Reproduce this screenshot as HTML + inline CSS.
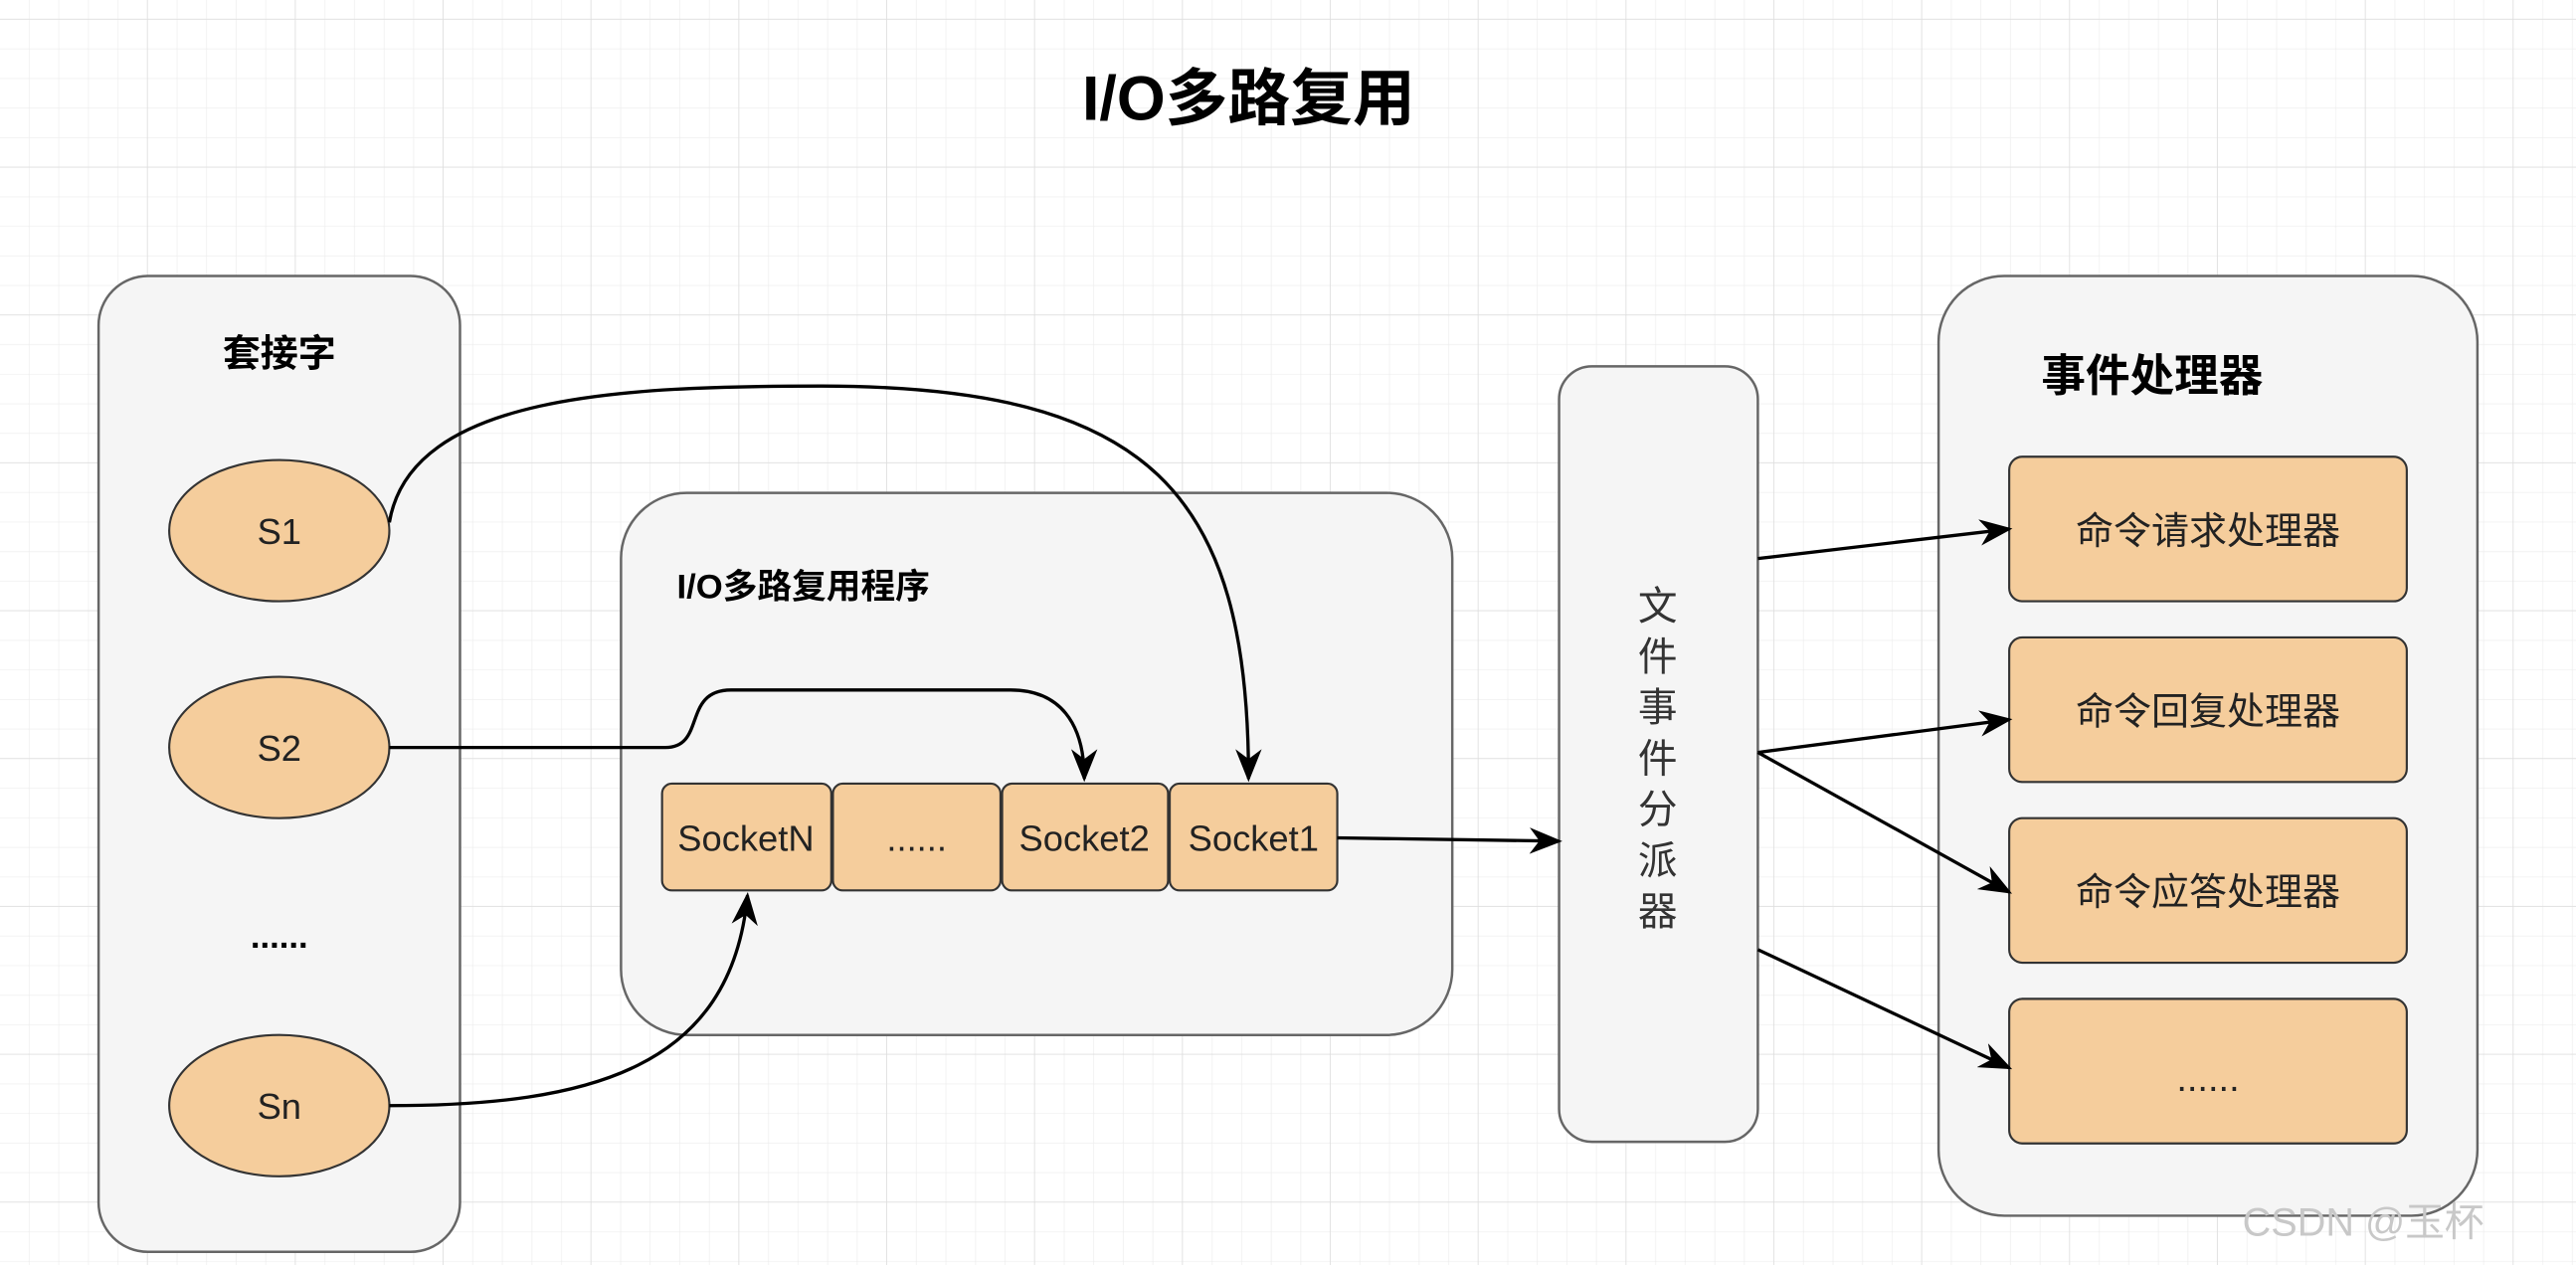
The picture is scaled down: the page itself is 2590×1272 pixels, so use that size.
<!DOCTYPE html>
<html><head><meta charset="utf-8"><style>
html,body{margin:0;padding:0;background:#fff;}
svg{display:block;}
text{font-family:"Liberation Sans","Noto Sans CJK SC",sans-serif;}
</style></head><body>
<svg width="2590" height="1272" viewBox="0 0 1568 770" preserveAspectRatio="none" xmlns="http://www.w3.org/2000/svg">
<defs>
<pattern id="g" width="18" height="18" patternUnits="userSpaceOnUse">
<path d="M18 0V18M0 18H18" fill="none" stroke="#ececec" stroke-width="0.8"/>
</pattern>
<pattern id="G" width="90" height="90" patternUnits="userSpaceOnUse" x="0" y="12">
<rect width="90" height="90" fill="url(#g)"/>
<path d="M90 0V90M0 90H90" fill="none" stroke="#dedede" stroke-width="1"/>
</pattern>
<marker id="a" markerWidth="20" markerHeight="16" refX="18" refY="8" orient="auto" markerUnits="userSpaceOnUse" viewBox="0 0 20 16">
<path d="M0,0 L20,8 L0,16 L6,8 Z" fill="#000"/>
</marker>
</defs>
<rect width="1568" height="770" fill="url(#G)"/>
<text x="760" y="73" font-size="38" font-weight="bold" text-anchor="middle">I/O多路复用</text>

<rect x="60" y="168" width="220" height="594" rx="30" fill="#f5f5f5" stroke="#666" stroke-width="1.5"/>
<text x="170" y="223" font-size="23" font-weight="bold" text-anchor="middle">套接字</text>
<g fill="#f5cd9c" stroke="#333" stroke-width="1.3">
<ellipse cx="170" cy="323" rx="67" ry="43"/>
<ellipse cx="170" cy="455" rx="67" ry="43"/>
<ellipse cx="170" cy="673" rx="67" ry="43"/>
</g>
<g font-size="22" text-anchor="middle" fill="#222">
<text x="170" y="331">S1</text><text x="170" y="463">S2</text><text x="170" y="681">Sn</text>
</g>
<text x="170" y="577" font-size="21" font-weight="bold" text-anchor="middle">......</text>

<rect x="378" y="300" width="506" height="330" rx="40" fill="#f5f5f5" stroke="#666" stroke-width="1.5"/>
<text x="412" y="364" font-size="21" font-weight="bold">I/O多路复用程序</text>
<g fill="#f5cd9c" stroke="#333" stroke-width="1.3">
<rect x="403" y="477" width="103" height="65" rx="6"/>
<rect x="507" y="477" width="102" height="65" rx="6"/>
<rect x="610" y="477" width="101" height="65" rx="6"/>
<rect x="712" y="477" width="102" height="65" rx="6"/>
</g>
<g font-size="22" text-anchor="middle" fill="#222">
<text x="454" y="518">SocketN</text><text x="558" y="518">......</text>
<text x="660" y="518">Socket2</text><text x="763" y="518">Socket1</text>
</g>

<rect x="949" y="223" width="121" height="472" rx="20" fill="#f5f5f5" stroke="#666" stroke-width="1.5"/>
<g font-size="24" text-anchor="middle" fill="#333">
<text x="1009" y="377">文</text><text x="1009" y="408">件</text><text x="1009" y="439">事</text>
<text x="1009" y="470">件</text><text x="1009" y="501">分</text><text x="1009" y="532">派</text><text x="1009" y="563">器</text>
</g>

<rect x="1180" y="168" width="328" height="572" rx="40" fill="#f5f5f5" stroke="#666" stroke-width="1.5"/>
<text x="1310" y="238" font-size="27" font-weight="bold" text-anchor="middle">事件处理器</text>
<g fill="#f5cd9c" stroke="#333" stroke-width="1.3">
<rect x="1223" y="278" width="242" height="88" rx="8"/>
<rect x="1223" y="388" width="242" height="88" rx="8"/>
<rect x="1223" y="498" width="242" height="88" rx="8"/>
<rect x="1223" y="608" width="242" height="88" rx="8"/>
</g>
<g font-size="23" text-anchor="middle" fill="#222">
<text x="1344" y="331">命令请求处理器</text><text x="1344" y="441">命令回复处理器</text>
<text x="1344" y="551">命令应答处理器</text><text x="1344" y="664">......</text>
</g>

<g fill="none" stroke="#000" stroke-width="2" marker-end="url(#a)">
<path d="M237,318 C250,240 380,235 500,235 C700,235 760,300 760,474"/>
<path d="M237,455 L405,455 C430,455 415,420 445,420 L615,420 C645,420 660,440 660,474"/>
<path d="M237,673 C360,673 445,650 455,545"/>
<path d="M814,510 L949,512"/>
<path d="M1070,340 L1223,322"/>
<path d="M1070,458 L1223,438"/>
<path d="M1070,458 L1223,543"/>
<path d="M1070,578 L1223,650"/>
</g>
<text x="1365" y="752" font-size="24" fill="#c8c8c8">CSDN @玉杯</text>
</svg>
</body></html>
